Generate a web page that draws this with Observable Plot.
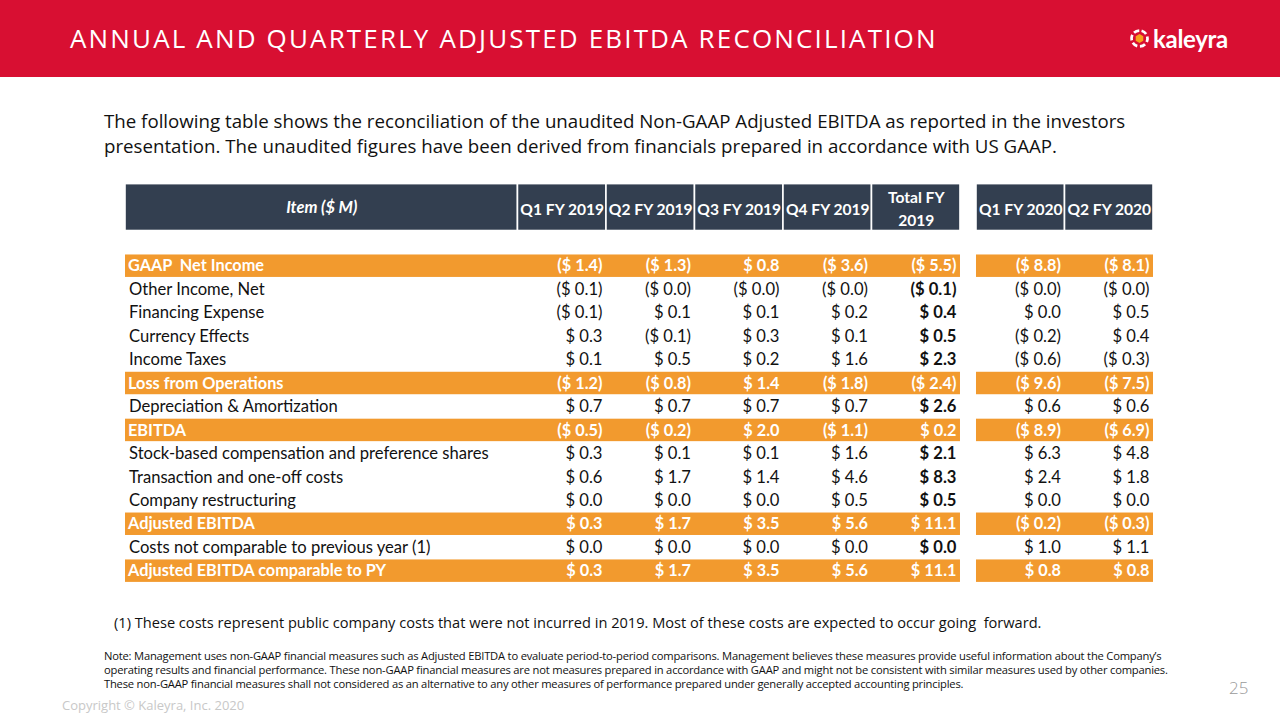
<!DOCTYPE html>
<html><head><meta charset="utf-8">
<script src="https://cdn.jsdelivr.net/npm/d3@7"></script>
<script src="https://cdn.jsdelivr.net/npm/@observablehq/plot@0.6"></script>
<style>
html,body{margin:0;padding:0;background:#fff;}
#slide{position:relative;width:1280px;height:720px;overflow:hidden;font-family:"Open Sans",sans-serif;color:#111;}
#banner{position:absolute;left:0;top:0;width:1280px;height:77px;background:#d80f32;}
#title{position:absolute;left:70px;top:20px;font-size:26px;color:#fff;font-weight:400;letter-spacing:2.15px;white-space:nowrap;}
#logo{position:absolute;left:1129px;top:24px;display:flex;align-items:center;}
#logo span{font-family:Lato,sans-serif;font-weight:700;font-size:24px;color:#fff;margin-left:3px;letter-spacing:-0.3px;}
#intro{position:absolute;left:104px;top:108px;font-size:18.7px;line-height:25px;white-space:nowrap;color:#111;}
#chart{position:absolute;left:0;top:180px;}
#fn1{position:absolute;left:114px;top:612px;font-size:14.6px;white-space:nowrap;color:#111;}
#note{position:absolute;left:104px;top:649px;font-size:11.2px;line-height:14px;white-space:nowrap;letter-spacing:-0.2px;color:#111;}
#copy{position:absolute;left:62px;top:696px;font-size:13px;color:#c8c8c8;white-space:nowrap;}
#page{position:absolute;left:1229px;top:676px;font-size:17px;color:#9a9a9a;font-weight:300;}
</style></head><body>
<div id="slide">
  <div id="banner">
    <div id="title">ANNUAL AND QUARTERLY ADJUSTED EBITDA RECONCILIATION</div>
    <div id="logo">
      <svg width="21" height="21" viewBox="0 0 20 20">
        <circle cx="10" cy="10" r="7.6" fill="none" stroke="#fff" stroke-width="2.6" stroke-dasharray="5.4 2.56" transform="rotate(-75 10 10)"/>
        <polygon points="10,5.8 13.6,7.9 13.6,12.1 10,14.2 6.4,12.1 6.4,7.9" fill="#f7a21b"/>
      </svg>
      <span>kaleyra</span>
    </div>
  </div>
  <div id="intro">The following table shows the reconciliation of the unaudited Non-GAAP Adjusted EBITDA as reported in the investors<br>presentation. The unaudited figures have been derived from financials prepared in accordance with US GAAP.</div>
  <div id="chart"></div>
  <div id="fn1">(1) These costs represent public company costs that were not incurred in 2019. Most of these costs are expected to occur going&nbsp; forward.</div>
  <div id="note">Note: Management uses non-GAAP financial measures such as Adjusted EBITDA to evaluate period-to-period comparisons. Management believes these measures provide useful information about the Company’s<br>operating results and financial performance. These non-GAAP financial measures are not measures prepared in accordance with GAAP and might not be consistent with similar measures used by other companies.<br>These non-GAAP financial measures shall not considered as an alternative to any other measures of performance prepared under generally accepted accounting principles.</div>
  <div id="copy">Copyright © Kaleyra, Inc. 2020</div>
  <div id="page">25</div>
</div>
<script>
// ---- data ----
const items = [
  "GAAP  Net Income",
  "Other Income, Net",
  "Financing Expense",
  "Currency Effects",
  "Income Taxes",
  "Loss from Operations",
  "Depreciation & Amortization",
  "EBITDA",
  "Stock-based compensation and preference shares",
  "Transaction and one-off costs",
  "Company restructuring",
  "Adjusted EBITDA",
  "Costs not comparable to previous year (1)",
  "Adjusted EBITDA comparable to PY"
];
const highlighted = ["GAAP  Net Income", "Loss from Operations", "EBITDA", "Adjusted EBITDA", "Adjusted EBITDA comparable to PY"];
const periods = ["Q1 FY 2019", "Q2 FY 2019", "Q3 FY 2019", "Q4 FY 2019", "Total FY 2019", "Q1 FY 2020", "Q2 FY 2020"];
const itemHeader = "Item ($ M)";
const q1fy2019 = [-1.4, -0.1, -0.1,  0.3,  0.1, -1.2, 0.7, -0.5, 0.3, 0.6, 0.0,  0.3, 0.0,  0.3];
const q2fy2019 = [-1.3, -0.0,  0.1, -0.1,  0.5, -0.8, 0.7, -0.2, 0.1, 1.7, 0.0,  1.7, 0.0,  1.7];
const q3fy2019 = [ 0.8, -0.0,  0.1,  0.3,  0.2,  1.4, 0.7,  2.0, 0.1, 1.4, 0.0,  3.5, 0.0,  3.5];
const q4fy2019 = [-3.6, -0.0,  0.2,  0.1,  1.6, -1.8, 0.7, -1.1, 1.6, 4.6, 0.5,  5.6, 0.0,  5.6];
const totalfy2019 = [-5.5, -0.1, 0.4, 0.5, 2.3, -2.4, 2.6,  0.2, 2.1, 8.3, 0.5, 11.1, 0.0, 11.1];
const q1fy2020 = [-8.8, -0.0,  0.0, -0.2, -0.6, -9.6, 0.6, -8.9, 6.3, 2.4, 0.0, -0.2, 1.0,  0.8];
const q2fy2020 = [-8.1, -0.0,  0.5,  0.4, -0.3, -7.5, 0.6, -6.9, 4.8, 1.8, 0.0, -0.3, 1.1,  0.8];
const series = [q1fy2019, q2fy2019, q3fy2019, q4fy2019, totalfy2019, q1fy2020, q2fy2020];

// ---- layout (table geometry in x units) ----
const ITEM_W = 392, COL_W = 88.4, GAP_W = 16, SPLIT = 5;
const colX = c => ITEM_W + c * COL_W + (c >= SPLIT ? GAP_W : 0);
const TOTAL_W = colX(periods.length);
const HEAD_ROWS = 3; // header (2 units) + spacer (1 unit)
const NROWS = HEAD_ROWS + items.length;

const fmt = v => {
  const neg = v < 0 || Object.is(v, -0);
  const s = "$ " + Math.abs(v).toFixed(1);
  return neg ? "(" + s + ")" : s;
};

const headerCells = [{label: itemHeader, x1: 0, x2: ITEM_W, italic: true}]
  .concat(periods.map((p, c) => ({label: p.startsWith("Total") ? p.replace(" 2019", "\n2019") : p, x1: colX(c), x2: colX(c) + COL_W})));

const bands = highlighted.flatMap(name => {
  const r = items.indexOf(name) + HEAD_ROWS;
  return [
    {y1: r, y2: r + 1, x1: 0, x2: colX(SPLIT) - GAP_W},
    {y1: r, y2: r + 1, x1: colX(SPLIT), x2: colX(periods.length)}
  ];
});

const rowLabels = items.map((item, i) => ({item, row: i + HEAD_ROWS + 0.5, hl: highlighted.includes(item)}));
const cells = items.flatMap((item, i) => periods.map((p, c) => ({
  item, period: p, value: series[c][i],
  row: i + HEAD_ROWS + 0.5, x: colX(c) + COL_W,
  hl: highlighted.includes(item), total: p.startsWith("Total")
})));

const ORANGE = "#f29a2e", DARK = "#333f50";
const font = "Lato, Carlito, sans-serif";
const FS = 16.6;

const chart = Plot.plot({
  width: 1280,
  height: 410,
  x: {domain: [0, TOTAL_W], range: [125, 1153], axis: null},
  y: {domain: [0, NROWS], range: [3.6, 402.4], axis: null},
  style: {fontFamily: font, background: "transparent"},
  marks: [
    Plot.rect(headerCells, {x1: "x1", x2: "x2", y1: 0, y2: 2, fill: DARK, stroke: "#fff", strokeWidth: 1.6}),
    Plot.rect(bands, {x1: "x1", x2: "x2", y1: "y1", y2: "y2", fill: ORANGE, insetTop: 0.5, insetBottom: 0.5}),
    Plot.text(headerCells.filter(d => d.italic), {x: d => (d.x1 + d.x2) / 2, y: 1, text: "label", fill: "#fff", fontWeight: 700, fontStyle: "italic", fontSize: 16.4, fontFamily: font}),
    Plot.text(headerCells.filter(d => !d.italic), {x: d => (d.x1 + d.x2) / 2, y: 1, text: "label", fill: "#fff", fontWeight: 700, fontSize: 15.6, lineHeight: 1.45, fontFamily: font}),
    Plot.text(rowLabels.filter(d => !d.hl), {x: 0, dx: 3.5, y: "row", text: "item", textAnchor: "start", fill: "#111", fontSize: FS, fontFamily: font}),
    Plot.text(rowLabels.filter(d => d.hl), {x: 0, dx: 2.5, y: "row", text: "item", textAnchor: "start", fill: "#fff", fontWeight: 700, fontSize: 16.3, fontFamily: font}),
    Plot.text(cells.filter(d => !d.hl && !d.total), {x: "x", dx: -4, y: "row", text: d => fmt(d.value), textAnchor: "end", fill: "#111", fontSize: FS, fontFamily: font}),
    Plot.text(cells.filter(d => !d.hl && d.total), {x: "x", dx: -4, y: "row", text: d => fmt(d.value), textAnchor: "end", fill: "#111", fontWeight: 700, fontSize: FS, fontFamily: font}),
    Plot.text(cells.filter(d => d.hl), {x: "x", dx: -4, y: "row", text: d => fmt(d.value), textAnchor: "end", fill: "#fff", fontWeight: 700, fontSize: 16.3, fontFamily: font})
  ]
});
document.getElementById("chart").appendChild(chart);
</script>
</body></html>
